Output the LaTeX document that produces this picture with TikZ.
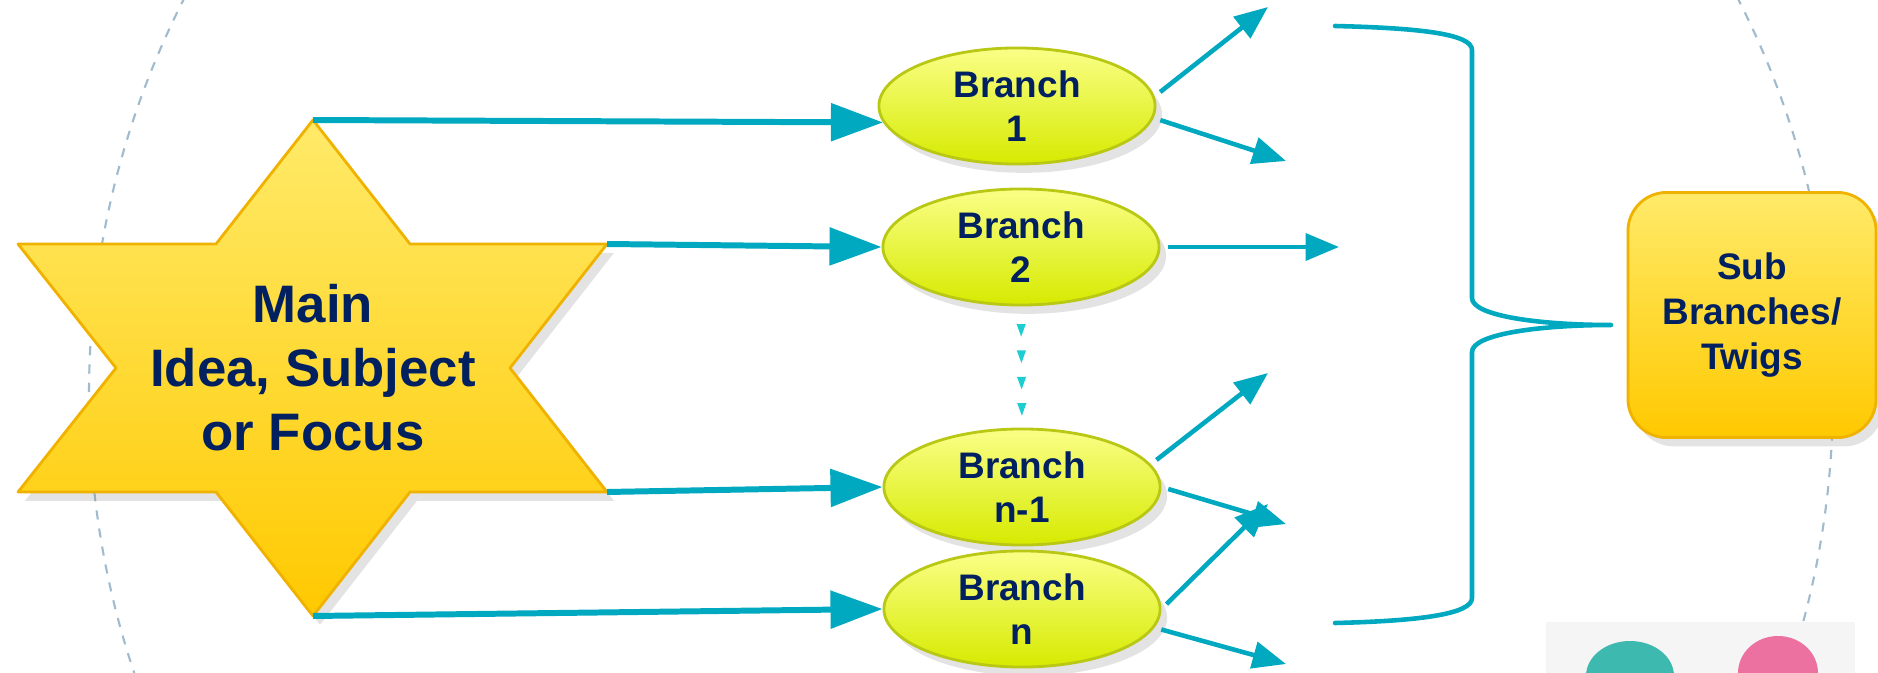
\documentclass[tikz,border=0pt]{standalone}
\usepackage{fontspec}
\setmainfont{Liberation Sans}
\usetikzlibrary{arrows.meta,shapes.geometric,shadows,decorations.markings}
\definecolor{arrowc}{RGB}{0,168,192}
\definecolor{dotc}{RGB}{30,205,210}
\definecolor{navy}{RGB}{0,32,96}
\definecolor{goldtop}{RGB}{255,234,105}
\definecolor{goldbot}{RGB}{255,201,0}
\definecolor{goldline}{RGB}{240,178,0}
\definecolor{limetop}{RGB}{250,255,135}
\definecolor{limebot}{RGB}{214,234,0}
\definecolor{limeline}{RGB}{185,200,20}
\definecolor{ringc}{RGB}{160,186,206}
\definecolor{greyc}{RGB}{245,245,245}
\definecolor{tealc}{RGB}{62,185,175}
\definecolor{pinkc}{RGB}{236,112,160}
\tikzset{
  softshadow/.style={drop shadow={opacity=0.22, shadow xshift=2pt, shadow yshift=-2.5pt}},
  branch/.style={ellipse, draw=limeline, line width=0.8pt, top color=limetop, bottom color=limebot, minimum width=2.76cm, minimum height=1.16cm, inner sep=0pt, align=center, text=navy, font=\bfseries\fontsize{10.5}{12.6}\selectfont, softshadow},
  subbox/.style={rectangle, rounded corners=11pt, draw=goldline, line width=0.8pt, top color=goldtop, bottom color=goldbot, minimum width=2.48cm, minimum height=2.45cm, inner sep=0pt, align=center, text=navy, font=\bfseries\fontsize{10.5}{12.8}\selectfont, softshadow},
  feed/.style={arrowc, line width=1.7pt, -{Triangle[length=14.8pt,width=10.5pt]}},
  twig/.style={arrowc, line width=1.3pt, shorten <=2pt, -{Triangle[length=9.5pt,width=7.6pt]}}
}
\begin{document}
\begin{tikzpicture}[x=0.01cm, y=-0.01cm, line join=round]
\useasboundingbox (0,0) rectangle (1878,673);
\clip (0,0) rectangle (1878,673);
\draw[ringc, line width=0.6pt, dash pattern=on 2.6pt off 2.6pt] (961,395) circle[radius=872];
\fill[greyc] (1546,622) rectangle (1855,680);
\fill[tealc] (1630,676) ellipse[x radius=44, y radius=35];
\fill[pinkc] (1778,673) ellipse[x radius=40, y radius=37];
\coordinate (s-t) at (313,120);
\coordinate (s-ur) at (607,244);
\coordinate (s-lr) at (607,492);
\coordinate (s-b) at (313,616);
\path[draw=goldline, line width=0.8pt, top color=goldtop, bottom color=goldbot, softshadow] (s-t) -- (410,244) -- (s-ur) -- (510,368) -- (s-lr) -- (410,492) -- (s-b) -- (216,492) -- (18,492) -- (116,368) -- (18,244) -- (216,244) -- cycle;
\node[align=center, text=navy, font=\bfseries\fontsize{15}{18.2}\selectfont] (main) at (313,368) {Main\\Idea, Subject\\or Focus};
\node[branch] (b1) at (1017,106) {Branch\\1};
\node[branch] (b2) at (1021,247) {Branch\\2};
\node[branch] (bn1) at (1022,487) {Branch\\n-1};
\node[branch] (bn) at (1022,609) {Branch\\n};
\node[subbox] (sub) at (1752,315) {Sub\\Branches/\\Twigs};
\draw[feed] (s-t) -- (b1.187);
\draw[feed] (s-ur) -- (b2.west);
\draw[feed] (s-lr) -- (bn1.west);
\draw[feed] (s-b) -- (bn.west);
\coordinate (t1a) at (1268,7);
\coordinate (t1b) at (1286,161);
\coordinate (t2) at (1339,247);
\coordinate (tn1a) at (1268,373);
\coordinate (tn1b) at (1286,524);
\coordinate (tna) at (1268,504);
\coordinate (tnb) at (1286,664);
\draw[twig] (b1.4) -- (t1a);
\draw[twig] (b1.-5) -- (t1b);
\draw[twig] (b2.east) -- (t2);
\draw[twig] (bn1.10) -- (tn1a);
\draw[twig] (bn1.east) -- (tn1b);
\draw[twig] (bn.east) -- (tna);
\draw[twig] (bn.-8) -- (tnb);
\path[postaction={decorate}, decoration={markings, mark=between positions 0.25 and 0.92 step 0.2177 with {\arrow[dotc]{Triangle[length=3.6pt,width=2.5pt]}}}] (b2.south) -- (bn1.north);
\draw[arrowc, line width=1.3pt, line cap=round] (1335,26) .. controls (1420,28) and (1472,34) .. (1472,50) -- (1472,298) .. controls (1472,316) and (1540,325) .. (1611,325) .. controls (1540,325) and (1472,334) .. (1472,352) -- (1472,598) .. controls (1472,614) and (1420,621) .. (1335,623);
\end{tikzpicture}
\end{document}
